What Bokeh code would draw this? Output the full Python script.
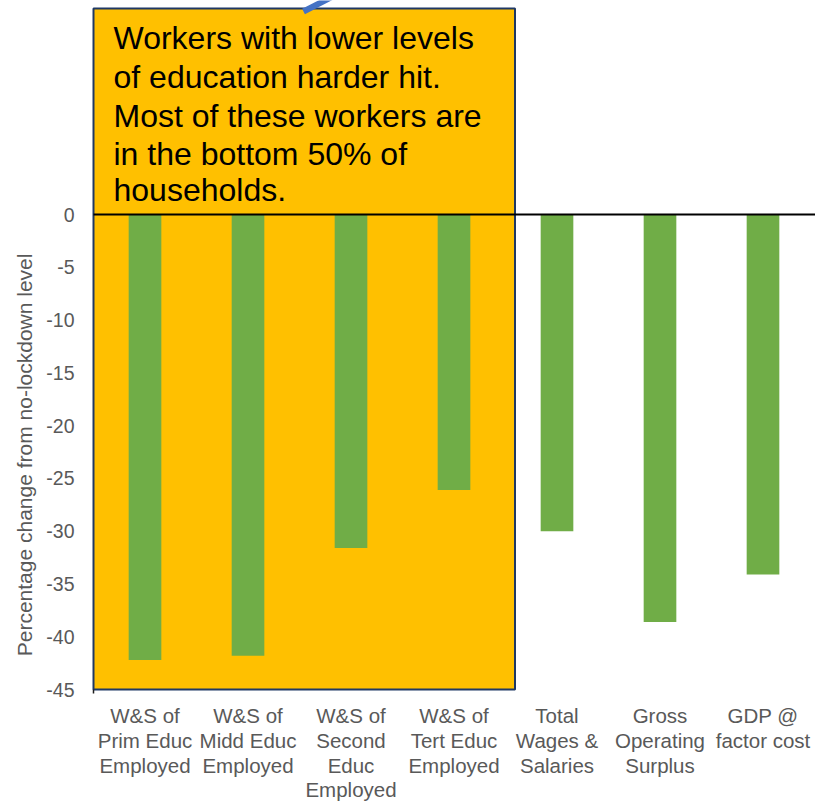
import math
from bokeh.plotting import figure
from bokeh.models import ColumnDataSource, Range1d, BoxAnnotation
from bokeh.core.properties import value
from bokeh.embed import file_html
from bokeh.resources import INLINE

# ---- data ----
categories = [
    "W&S of\nPrim Educ\nEmployed",
    "W&S of\nMidd Educ\nEmployed",
    "W&S of\nSecond\nEduc\nEmployed",
    "W&S of\nTert Educ\nEmployed",
    "Total\nWages &\nSalaries",
    "Gross\nOperating\nSurplus",
    "GDP @\nfactor cost",
]
values = [-42.2, -41.8, -31.6, -26.1, -30.0, -38.6, -34.1]
y_ticks = [0, -5, -10, -15, -20, -25, -30, -35, -40, -45]
y_tick_labels = ["0", "-5", "-10", "-15", "-20", "-25", "-30", "-35", "-40", "-45"]
y_title = "Percentage  change from no-lockdown level"
note_lines = [
    "Workers with lower levels",
    "of education harder hit.",
    "Most of these workers are",
    "in the bottom 50% of",
    "households.",
]

# ---- layout constants (pixels) ----
W, H = 815, 801
plot_left, plot_right = 93, 814
zero_px, m45_px = 214, 689
ppu = (m45_px - zero_px) / 45.0               # pixels per unit
cat_w = (plot_right - plot_left) / len(categories)
FONT = "Liberation Sans"

def ydata(px):
    return (zero_px - px) / ppu

def xdata(px):
    return -0.5 + (px - plot_left) / cat_w

xs = list(range(len(categories)))
src = ColumnDataSource(dict(x=xs, top=[0] * len(values), bottom=values))

p = figure(width=W, height=H, output_backend="svg", toolbar_location=None,
           x_range=Range1d(xdata(0), xdata(W)),
           y_range=Range1d(ydata(H), ydata(0)),
           min_border=0, min_border_left=0, min_border_right=0,
           min_border_top=0, min_border_bottom=0)
p.outline_line_color = None
p.xaxis.visible = False
p.yaxis.visible = False
p.xgrid.visible = False
p.ygrid.visible = False
p.background_fill_color = "white"
p.border_fill_color = "white"

# highlight box
box = BoxAnnotation(left=-0.5, right=xdata(514.5), bottom=-45, top=ydata(8),
                    fill_color="#FFC000", fill_alpha=1.0,
                    line_color="#1F3864", line_alpha=1.0, line_width=2,
                    level="underlay")
p.add_layout(box)

# bars
p.vbar(x="x", top="top", bottom="bottom", width=0.317, source=src,
       fill_color="#70AD47", line_color=None)

# zero line (category axis)
p.segment(x0=[-0.5], y0=[0], x1=[xdata(W)], y1=[0], line_color="black", line_width=2)
# small stub of the value axis below the box
p.segment(x0=[-0.5], y0=[y_ticks[-1]], x1=[-0.5], y1=[ydata(m45_px + 4)],
          line_color="#1F1F1F", line_width=1.5)

# arrow fragment at top
p.segment(x0=[xdata(303)], y0=[ydata(11)], x1=[xdata(340)], y1=[ydata(-8)],
          line_color="#4472C4", line_width=6)

# note text (cap centres)
centres = [37.5, 76, 115, 153.8, 189.5]
p.text(x=[xdata(113)] * len(note_lines), y=[ydata(c) for c in centres],
       text=note_lines, text_font=value(FONT), text_font_size="32px",
       text_color="black", text_baseline="middle", text_align="left")

# value-axis tick labels
p.text(x=[xdata(74)] * len(y_ticks), y=y_ticks, text=y_tick_labels,
       text_font=value(FONT), text_font_size="19.5px", text_color="#595959",
       text_baseline="middle", text_align="right")

# value-axis title, centred on the 0..-45 span
p.text(x=[xdata(24)], y=[(y_ticks[0] + y_ticks[-1]) / 2], text=[y_title],
       angle=math.pi / 2, text_font=value(FONT), text_font_size="21px",
       text_color="#595959", text_align="center", text_baseline="middle")

# category labels, line by line
lx, ly, lt = [], [], []
line_centres = [714.5, 739.5, 764.5, 788.5]
for i, c in enumerate(categories):
    for j, line in enumerate(c.split("\n")):
        lx.append(i)
        ly.append(ydata(line_centres[j]))
        lt.append(line)
p.text(x=lx, y=ly, text=lt, text_font=value(FONT), text_font_size="20.5px",
       text_color="#595959", text_align="center", text_baseline="middle")

open("out.html", "w").write(file_html(p, INLINE))
